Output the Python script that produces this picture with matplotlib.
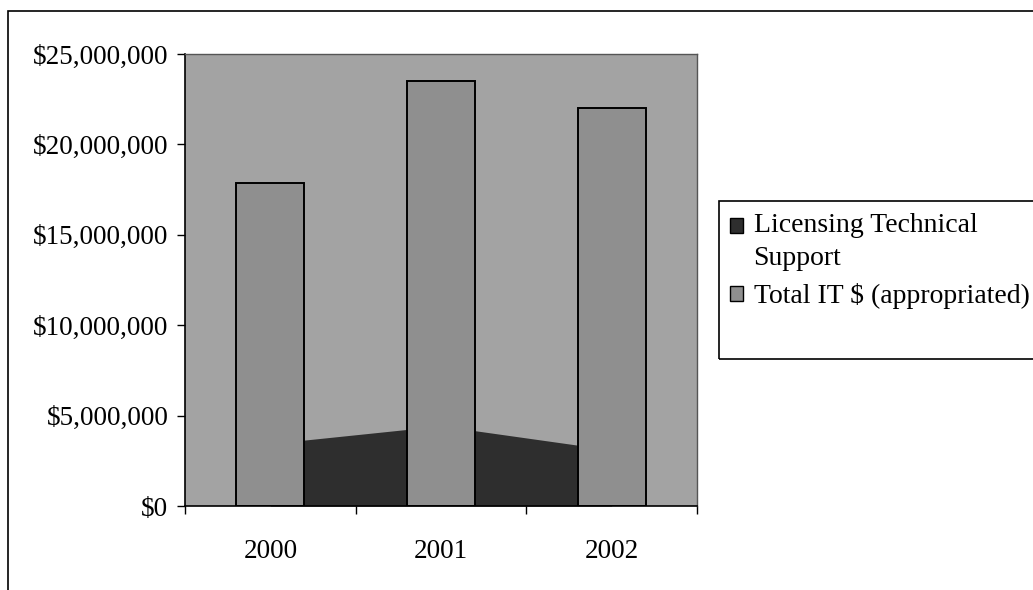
import matplotlib

matplotlib.use("Agg")

import matplotlib.pyplot as plt
import numpy as np
from matplotlib.legend_handler import HandlerPatch
from matplotlib.patches import Patch, Rectangle
from matplotlib.ticker import FuncFormatter

years = ["2000", "2001", "2002"]
total_it = [17_850_000, 23_500_000, 22_000_000]
licensing_support = [3_450_000, 4_430_000, 3_100_000]
y_ticks = [0, 5_000_000, 10_000_000, 15_000_000, 20_000_000, 25_000_000]

plt.rcParams["font.family"] = ["Liberation Serif", "DejaVu Serif"]

fig = plt.figure(figsize=(10.33, 5.90), dpi=100)
ax = fig.add_axes([185 / 1033, 1 - 506 / 590, 512 / 1033, 452 / 590])

bg = "#a3a3a3"
bar_grey = "#8f8f8f"
area_dark = "#2e2e2e"
ax.set_facecolor(bg)

x = np.arange(len(years)) + 0.5
ax.fill_between(x, 0, licensing_support, color=area_dark, lw=0, zorder=1)
ax.bar(x, total_it, width=0.4, color=bar_grey, edgecolor="black", lw=1.4, zorder=2)

ax.set_xlim(0, len(years))
ax.set_ylim(0, 25_000_000)
ax.set_yticks(y_ticks)
ax.yaxis.set_major_formatter(FuncFormatter(lambda v, _: f"${v:,.0f}"))
ax.tick_params(axis="y", direction="out", length=6, width=1, labelsize=19.5, pad=6)

# category boundaries carry the tick marks, the year labels sit between them
ax.set_xticks(np.arange(len(years) + 1))
ax.set_xticklabels([])
ax.set_xticks(x, minor=True)
ax.set_xticklabels(years, minor=True)
ax.tick_params(axis="x", which="major", direction="out", length=6, width=1)
ax.tick_params(axis="x", which="minor", length=0, labelsize=19.5, pad=24)

for side in ["left", "bottom"]:
    ax.spines[side].set_color("black")
    ax.spines[side].set_linewidth(1.2)
for side in ["top", "right"]:
    ax.spines[side].set_color("#555555")
    ax.spines[side].set_linewidth(1.0)

# outer chart frame and legend frame run past the page edge
fig.patches.append(Rectangle((8 / 1033, -0.05), 1.1, 1 - 11 / 590 + 0.05,
                             transform=fig.transFigure, fill=False,
                             edgecolor="black", lw=1.2))
fig.patches.append(Rectangle((719 / 1033, 1 - 359 / 590), 1.0, 158 / 590,
                             transform=fig.transFigure, fill=False,
                             edgecolor="black", lw=1.2))


def top_line_square(legend, orig_handle, xdescent, ydescent, width, height, fontsize):
    # keep the swatch level with the first line of a two-line label
    return Rectangle((-xdescent, -ydescent + 0.58 * fontsize), width, height)


handles = [
    Patch(facecolor=area_dark, edgecolor="black", lw=1),
    Patch(facecolor=bar_grey, edgecolor="black", lw=1),
]
labels = ["Licensing Technical\nSupport", "Total IT $ (appropriated)"]
leg = fig.legend(handles, labels, loc="upper left",
                 bbox_to_anchor=(730 / 1033, 1 - 213 / 590),
                 frameon=False, fontsize=20, handlelength=0.45, handleheight=0.45,
                 handletextpad=0.4, labelspacing=0.45, borderpad=0.0,
                 borderaxespad=0.0,
                 handler_map={handles[0]: HandlerPatch(patch_func=top_line_square)})
for t in leg.get_texts():
    t.set_linespacing(1.4)

fig.savefig("out.png", dpi=100)
